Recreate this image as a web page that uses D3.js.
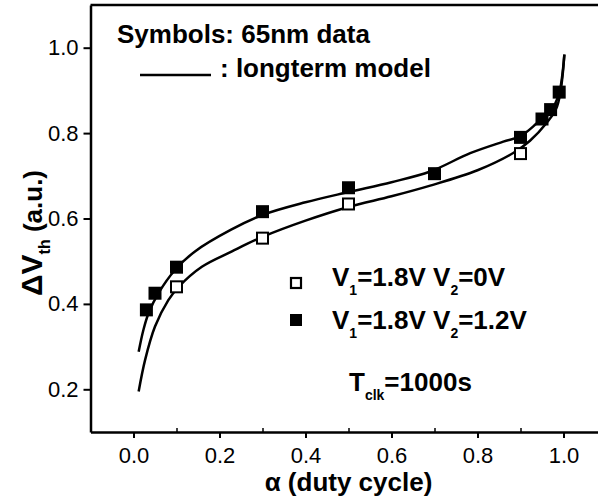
<!DOCTYPE html>
<html><head><meta charset="utf-8">
<script src="https://cdn.jsdelivr.net/npm/d3@7"></script>
<style>body{margin:0;background:#fff;} svg{display:block;}</style>
</head><body>
<svg id="c" width="598" height="502"></svg>
<script>
const xTicks = [0.0, 0.2, 0.4, 0.6, 0.8, 1.0];
const xTickLabels = ["0.0", "0.2", "0.4", "0.6", "0.8", "1.0"];
const xMinorTicks = [-0.1, 0.1, 0.3, 0.5, 0.7, 0.9];
const yTicks = [0.2, 0.4, 0.6, 0.8, 1.0];
const yTickLabels = ["0.2", "0.4", "0.6", "0.8", "1.0"];

// data symbols
const dutyOpen = [0.1, 0.3, 0.5, 0.9];
const dvthOpen = [0.44, 0.554, 0.634, 0.752];
const dutyFilled = [0.03, 0.05, 0.1, 0.3, 0.5, 0.7, 0.9, 0.95, 0.97, 0.99];
const dvthFilled = [0.386, 0.425, 0.486, 0.616, 0.672, 0.705, 0.79, 0.833, 0.855, 0.896];

// long-term model curves
const modelUpperX = [0.012, 0.023, 0.035, 0.058, 0.097, 0.143, 0.227, 0.302, 0.4, 0.5, 0.6, 0.69, 0.783, 0.86, 0.9, 0.938, 0.969, 0.988, 1.002];
const modelUpperY = [0.288, 0.339, 0.378, 0.425, 0.48, 0.523, 0.574, 0.609, 0.638, 0.662, 0.685, 0.71, 0.753, 0.78, 0.793, 0.823, 0.851, 0.886, 0.984];
const modelLowerX = [0.012, 0.027, 0.05, 0.081, 0.105, 0.159, 0.229, 0.3, 0.4, 0.5, 0.6, 0.69, 0.8, 0.884, 0.922, 0.96, 0.985, 1.002];
const modelLowerY = [0.195, 0.269, 0.347, 0.409, 0.44, 0.487, 0.523, 0.557, 0.595, 0.627, 0.652, 0.677, 0.713, 0.754, 0.782, 0.823, 0.862, 0.984];

const svg = d3.select("#c");
const FONT = "'Liberation Sans', Arial, sans-serif";
const x = d3.scaleLinear().domain([-0.1, 1.1]).range([90.5, 606.5]);
const y = d3.scaleLinear().domain([0.1, 1.1]).range([432, 5]);

// frame top line
svg.append("line").attr("x1", x(-0.1)).attr("x2", 600).attr("y1", y(1.1)).attr("y2", y(1.1))
  .attr("stroke", "#000").attr("stroke-width", 2.5);

// bottom axis
const xAxis = svg.append("g").attr("transform", `translate(0,${y(0.1)})`)
  .call(d3.axisBottom(x).tickValues(xTicks).tickFormat((d, i) => xTickLabels[i]).tickSize(6).tickSizeOuter(0));
xAxis.select(".domain").attr("stroke-width", 2.5);
xAxis.selectAll(".tick line").attr("stroke-width", 2);
xAxis.selectAll(".tick text").attr("font-family", FONT).attr("font-size", 22).attr("fill", "#000").attr("dy", "0.98em");
svg.append("g").attr("transform", `translate(0,${y(0.1)})`)
  .call(d3.axisBottom(x).tickValues(xMinorTicks).tickFormat("").tickSize(-4).tickSizeOuter(0))
  .call(g => g.select(".domain").remove())
  .selectAll(".tick line").attr("stroke-width", 1.5);

// left axis
const yAxis = svg.append("g").attr("transform", `translate(${x(-0.1)},0)`)
  .call(d3.axisLeft(y).tickValues(yTicks).tickFormat((d, i) => yTickLabels[i]).tickSize(7).tickSizeOuter(0));
yAxis.select(".domain").attr("stroke-width", 2.5);
yAxis.selectAll(".tick line").attr("stroke-width", 2);
yAxis.selectAll(".tick text").attr("font-family", FONT).attr("font-size", 22).attr("fill", "#000").attr("x", -12);

// curves
const line = d3.line().x(d => x(d[0])).y(d => y(d[1])).curve(d3.curveCatmullRom.alpha(0.5));
[[modelUpperX, modelUpperY], [modelLowerX, modelLowerY]].forEach(([xs, ys]) => {
  svg.append("path").datum(xs.map((v, i) => [v, ys[i]])).attr("d", line)
    .attr("fill", "none").attr("stroke", "#000").attr("stroke-width", 2.5);
});

// symbols
const S = 13;
svg.append("g").selectAll("rect").data(dutyFilled.map((v, i) => [v, dvthFilled[i]])).join("rect")
  .attr("x", d => x(d[0]) - S / 2).attr("y", d => y(d[1]) - S / 2).attr("width", S).attr("height", S)
  .attr("fill", "#000");
svg.append("g").selectAll("rect").data(dutyOpen.map((v, i) => [v, dvthOpen[i]])).join("rect")
  .attr("x", d => x(d[0]) - (S - 2) / 2).attr("y", d => y(d[1]) - (S - 2) / 2).attr("width", S - 2).attr("height", S - 2)
  .attr("fill", "#fff").attr("stroke", "#000").attr("stroke-width", 2);

// annotations
const bold = (sel) => sel.attr("font-family", FONT).attr("font-weight", "bold").attr("fill", "#000");
bold(svg.append("text").attr("x", 117).attr("y", 43).attr("font-size", 26).text("Symbols: 65nm data"));
svg.append("line").attr("x1", 140).attr("x2", 211).attr("y1", 75).attr("y2", 75).attr("stroke", "#000").attr("stroke-width", 2.5);
bold(svg.append("text").attr("x", 220).attr("y", 77).attr("font-size", 26).text(": longterm model"));

// legend
svg.append("rect").attr("x", 291).attr("y", 278).attr("width", 10).attr("height", 10).attr("fill", "#fff").attr("stroke", "#000").attr("stroke-width", 2.2);
svg.append("rect").attr("x", 290).attr("y", 314).attr("width", 12).attr("height", 12).attr("fill", "#000");

function subText(xp, yp, parts) {
  const t = bold(svg.append("text").attr("x", xp).attr("y", yp).attr("font-size", 26));
  let low = false;
  parts.forEach(([s, sub]) => {
    if (sub) { t.append("tspan").attr("font-size", 14).attr("dy", low ? 0 : 9).text(s); low = true; }
    else { t.append("tspan").attr("dy", low ? -9 : 0).text(s); low = false; }
  });
  return t;
}
subText(332, 286, [["V"], ["1", 1], ["=1.8V V"], ["2", 1], ["=0V"]]);
subText(332, 329, [["V"], ["1", 1], ["=1.8V V"], ["2", 1], ["=1.2V"]]);
subText(349, 391, [["T"], ["clk", 1], ["=1000s"]]);

// axis titles
bold(svg.append("text").attr("x", x(0.5)).attr("y", 491).attr("text-anchor", "middle").attr("font-size", 26).text("α (duty cycle)"));
const yt = bold(svg.append("text").attr("transform", "translate(42,296) rotate(-90)").attr("font-size", 26));
yt.append("tspan").attr("font-size", 30).text("ΔV");
yt.append("tspan").attr("font-size", 16).attr("dy", 8).text("th");
yt.append("tspan").attr("dy", -8).text(" (a.u.)");
</script>
</body></html>
